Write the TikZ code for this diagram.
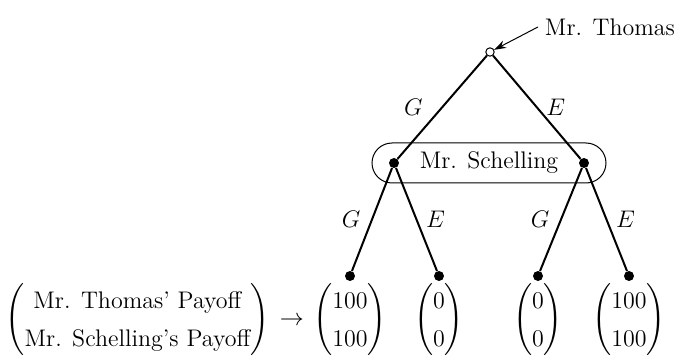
\documentclass[tikz,border=0pt]{standalone}
\usepackage{amsmath}
\usetikzlibrary{arrows.meta,positioning}
\renewcommand{\arraystretch}{1.3}
\tikzset{
  mover/.style={circle,fill=black,inner sep=0pt,minimum size=5pt},
  start/.style={circle,draw,fill=white,inner sep=0pt,minimum size=4.2pt,line width=0.5pt},
  branch/.style={line width=1pt},
  infobox/.style={draw,line width=0.5pt,rounded corners=10pt,minimum width=117pt,minimum height=20pt}
}

\begin{document}
\begin{tikzpicture}[x=0.5pt,y=-0.5pt,font=\fontsize{12}{14.4}\selectfont]
  \useasboundingbox (0,0) rectangle (681,358);

  % information set of Mr. Schelling
  \node[infobox] (info) at (489,163) {Mr. Schelling};

  % decision nodes
  \node[start] (root) at (490,52) {};
  \node[mover] (sg) at (394,163) {};
  \node[mover] (se) at (584,163) {};
  \node[mover] (gg) at (350,276) {};
  \node[mover] (ge) at (439,276) {};
  \node[mover] (eg) at (538,276) {};
  \node[mover] (ee) at (629,276) {};

  % branches
  \draw[branch] (root) -- node[left=6pt] {$G$} (sg);
  \draw[branch] (root) -- node[right=1pt] {$E$} (se);
  \draw[branch] (sg) -- node[left=2pt] {$G$} (gg);
  \draw[branch] (sg) -- node[right=1pt] {$E$} (ge);
  \draw[branch] (se) -- node[left=2pt] {$G$} (eg);
  \draw[branch] (se) -- node[right=1pt] {$E$} (ee);

  % first mover
  \node (thomas) at (610,27) {Mr. Thomas};
  \draw[line width=0.5pt,-{Stealth[length=6pt,width=4pt]}] (thomas.west) -- (root);

  % payoffs
  \node (pgg) at (350,320) {$\begin{pmatrix}100\\100\end{pmatrix}$};
  \node (pge) at (439,320) {$\begin{pmatrix}0\\0\end{pmatrix}$};
  \node (peg) at (538,320) {$\begin{pmatrix}0\\0\end{pmatrix}$};
  \node (pee) at (629,320) {$\begin{pmatrix}100\\100\end{pmatrix}$};
  \node[anchor=east,inner sep=1pt] (legend) at (pgg.west)
    {$\begin{pmatrix}\text{Mr. Thomas' Payoff}\\\text{Mr. Schelling's Payoff}\end{pmatrix}\,\rightarrow$};
\end{tikzpicture}
\end{document}
